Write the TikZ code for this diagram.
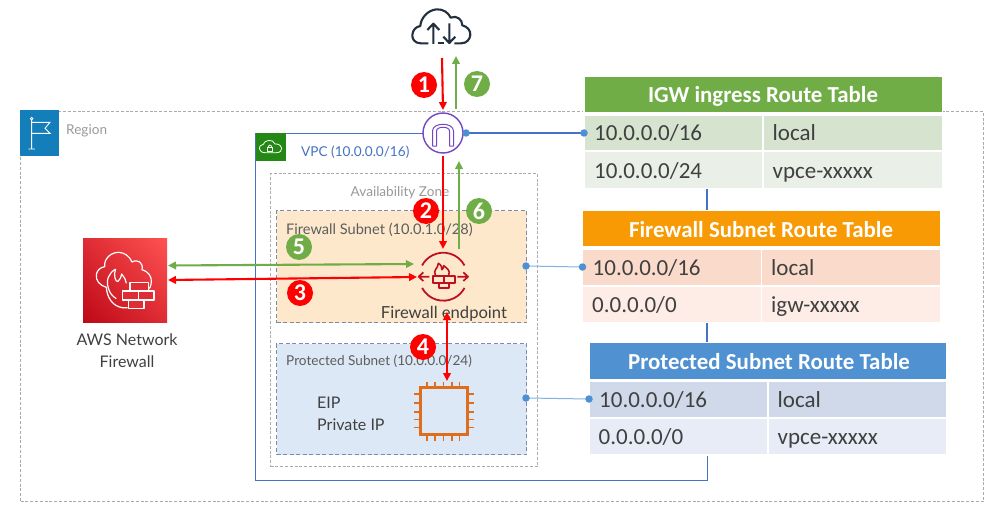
\documentclass[tikz,border=0pt]{standalone}
\usepackage{fontspec}
\setmainfont{Carlito}
\newfontfamily\labfont{Lato}
\usetikzlibrary{arrows.meta,shadings}
\definecolor{redarrow}{HTML}{FF0000}
\definecolor{greenarrow}{HTML}{70AD47}
\definecolor{bluedot}{HTML}{4F8FD6}
\definecolor{vpcblue}{HTML}{4472C4}
\definecolor{darktext}{HTML}{404040}
\definecolor{graytext}{HTML}{9A9A9A}
\definecolor{dashgray}{HTML}{ABABAB}
\definecolor{subnetedge}{HTML}{7F8BA5}
\definecolor{orangefill}{HTML}{FDE8CC}
\definecolor{bluefill}{HTML}{DCE8F5}
\definecolor{igwpurple}{HTML}{7346C4}
\definecolor{fwred}{HTML}{C0101F}
\definecolor{chiporange}{HTML}{DE6D1E}
\definecolor{navy}{HTML}{232F3E}
\definecolor{hdgreen}{HTML}{70AD47}
\definecolor{rowgreenA}{HTML}{D5E3CF}
\definecolor{rowgreenB}{HTML}{EAEFE8}
\definecolor{hdorange}{HTML}{F79A03}
\definecolor{roworangeA}{HTML}{FADBCB}
\definecolor{roworangeB}{HTML}{FDEDE6}
\definecolor{hdblue}{HTML}{5091D1}
\definecolor{rowblueA}{HTML}{CFD9EA}
\definecolor{rowblueB}{HTML}{E8ECF6}
\definecolor{awsA}{HTML}{BD0816}
\definecolor{awsB}{HTML}{FF5252}
\definecolor{awsC}{HTML}{DE2D34}
\definecolor{flagblue}{HTML}{147EBA}
\definecolor{vpcgreen}{HTML}{248814}
\tikzset{
  regionbox/.style={draw=dashgray,line width=1.1pt,dash pattern=on 3pt off 1.8pt,fill=white},
  vpcbox/.style={draw=vpcblue,line width=1.3pt},
  azbox/.style={draw=dashgray,line width=1.1pt,dash pattern=on 3pt off 1.8pt},
  subnetbox/.style={draw=subnetedge,line width=1.1pt,dash pattern=on 4pt off 2.5pt},
  redline/.style={draw=redarrow,line width=2.1pt,-{Triangle[length=8pt,width=7.5pt]}},
  reddouble/.style={draw=redarrow,line width=2.1pt,{Triangle[length=8pt,width=7.5pt]}-{Triangle[length=8pt,width=7.5pt]}},
  greenline/.style={draw=greenarrow,line width=2.1pt,-{Triangle[length=8pt,width=7.5pt]}},
  greendouble/.style={draw=greenarrow,line width=2.1pt,{Triangle[length=8pt,width=7.5pt]}-{Triangle[length=8pt,width=7.5pt]}},
  badge/.style={circle,inner sep=0pt,minimum size=26pt,text=white,font=\fontsize{24}{25}\selectfont\bfseries},
  reddot/.style={badge,fill=redarrow},
  greendot/.style={badge,fill=greenarrow},
  linkdot/.style={circle,fill=bluedot,inner sep=0pt,minimum size=7.5pt},
  linkline/.style={draw=bluedot!70,line width=1pt},
  cell/.style={inner sep=0pt,anchor=north west},
  celltext/.style={anchor=base west,inner sep=0pt,text=darktext,font=\fontsize{23}{26}\selectfont},
  headtext/.style={anchor=base,inner sep=0pt,text=white,font=\fontsize{22.9}{24}\selectfont\bfseries},
  lab/.style={inner sep=0pt,font=\labfont\fontsize{13.6}{15}\selectfont},
  biglab/.style={inner sep=0pt,text=darktext,font=\labfont\fontsize{16}{22}\selectfont,align=center},
  iconline/.style={line width=1.2pt,draw=white,line join=round},
}
\newcommand{\tcell}[8]{% name x0 y0 x1 y1 colour text textx
  \fill[#6] (#2,#3) rectangle (#4,#5);
  \node[celltext] (#1) at (#8,{#5-9.5}) {#7};
}
\begin{document}
\begin{tikzpicture}[x=1pt,y=-1pt]
\useasboundingbox (0,0) rectangle (998,516);
\fill[white] (0,0) rectangle (998,516);
% containers
\node[regionbox,cell,minimum width=963pt,minimum height=390pt] (region) at (20,111) {};
\fill[flagblue] (20,110) rectangle (58.5,155.5);
\node[lab,anchor=west,text=graytext] (regionlab) at (66,130.5) {Region};
\node[vpcbox,cell,minimum width=452pt,minimum height=347pt] (vpc) at (255,133) {};
\fill[vpcgreen] (255.5,133.5) rectangle (285.5,161);
\node[lab,anchor=west,text=vpcblue] (vpclab) at (301,152) {VPC (10.0.0.0/16)};
\node[azbox,cell,minimum width=267pt,minimum height=293pt] (az) at (270,173) {};
\node[lab,text=graytext] (azlab) at (400,193) {Availability Zone};
\node[subnetbox,cell,fill=orangefill,minimum width=250pt,minimum height=112pt] (fwsub) at (276,210) {};
\node[lab,anchor=west,text=darktext!85,font=\labfont\fontsize{14.6}{15}\selectfont] (fwsublab) at (286,229.5) {Firewall Subnet (10.0.1.0/28)};
\node[subnetbox,cell,fill=bluefill,minimum width=250pt,minimum height=111pt] (protsub) at (276,343) {};
\node[lab,anchor=west,text=darktext!85] (protsublab) at (286,361) {Protected Subnet (10.0.0.0/24)};
% tables
\fill[white] (583,75) rectangle (943,190);
\fill[white] (581,209) rectangle (941,323);
\fill[white] (588,341) rectangle (948,456);
\fill[hdgreen] (585,77) rectangle (941.5,112);
\node[headtext] (t1h) at (763,103) {IGW ingress Route Table};
\tcell{t1a}{585}{116}{762}{150}{rowgreenA}{10.0.0.0/16}{594}
\tcell{t1b}{764}{116}{941.5}{150}{rowgreenA}{local}{772.5}
\tcell{t1c}{585}{152}{762}{188}{rowgreenB}{10.0.0.0/24}{594}
\tcell{t1d}{764}{152}{941.5}{188}{rowgreenB}{vpce-xxxxx}{772.5}
\fill[hdorange] (583,211) rectangle (939.5,246);
\node[headtext] (t2h) at (761,237) {Firewall Subnet Route Table};
\tcell{t2a}{583}{250}{760.5}{285}{roworangeA}{10.0.0.0/16}{592.5}
\tcell{t2b}{762}{250}{939.5}{285}{roworangeA}{local}{771}
\tcell{t2c}{583}{286.5}{760.5}{322}{roworangeB}{0.0.0.0/0}{592}
\tcell{t2d}{762}{286.5}{939.5}{322}{roworangeB}{igw-xxxxx}{771}
\fill[hdblue] (590,343) rectangle (946,379);
\node[headtext] (t3h) at (769,369) {Protected Subnet Route Table};
\tcell{t3a}{590}{382}{767}{417}{rowblueA}{10.0.0.0/16}{599}
\tcell{t3b}{769}{382}{946}{417}{rowblueA}{local}{777.5}
\tcell{t3c}{590}{419}{767}{454}{rowblueB}{0.0.0.0/0}{598.5}
\tcell{t3d}{769}{419}{946}{454}{rowblueB}{vpce-xxxxx}{777.5}
% VPC right edge pieces between tables
\coordinate (va1) at (707,189); \coordinate (va2) at (707,210);
\coordinate (vb1) at (707,323); \coordinate (vb2) at (707,342);
\draw[vpcbox] (va1) -- (va2); \draw[vpcbox] (vb1) -- (vb2);
% internet cloud
\node[inner sep=0pt,minimum width=58pt,minimum height=36pt] (internet) at (442,26) {};
\begin{scope}[shift={(405,0)},x=0.3333pt,y=-0.3333pt]
  \draw[navy,line width=2.1pt,line join=round] (70,130) -- (47,130) .. controls (28,130) and (21,115) .. (22,105)
    .. controls (23,90) and (33,80) .. (46,78) .. controls (47,55) and (68,30) .. (95,28)
    .. controls (115,27) and (130,38) .. (137,53) .. controls (155,45) and (172,58) .. (172,76)
    .. controls (188,80) and (197,92) .. (196,105) .. controls (195,118) and (185,130) .. (168,130) -- (148,130);
  \draw[navy,line width=2.1pt] (98,130) -- (116,130);
  \draw[navy,line width=2.1pt,line join=round] (85,132) -- (85,72) (67,90) -- (85,71) -- (103,90);
  \draw[navy,line width=2.1pt,line join=round] (133,70) -- (133,128) (115,110) -- (133,129) -- (151,110);
\end{scope}
% IGW icon
\node[circle,draw=igwpurple,fill=white,line width=1.4pt,inner sep=0pt,minimum size=40pt] (igw) at (443,133) {};
\draw[igwpurple,line width=1pt,line join=round]
  (432.5,146) -- (432.5,131) .. controls (432.5,122) and (453.5,122) .. (453.5,131) -- (453.5,146) -- (449.5,146) -- (449.5,131)
  .. controls (449.5,126) and (436.5,126) .. (436.5,131) -- (436.5,146) -- cycle;
% firewall endpoint icon
\node[circle,inner sep=0pt,minimum size=50pt] (fwep) at (443.3,276.7) {};
\begin{scope}[shift={(443.3,276.7)},x=1pt,y=1pt]
  \draw[fwred,line width=1.8pt] (28:24pt) arc[start angle=28,end angle=152,radius=24pt];
  \draw[fwred,line width=1.8pt] (208:24pt) arc[start angle=208,end angle=332,radius=24pt];
\end{scope}
\begin{scope}[shift={(410,245)},x=0.3333pt,y=-0.3333pt]
  \draw[fwred,line width=1.7pt,line join=round] (58,95) -- (27,95) (40,82) -- (26,95) -- (40,108);
  \draw[fwred,line width=1.7pt,line join=round] (142,95) -- (173,95) (160,82) -- (174,95) -- (160,108);
  \draw[fwred,line width=1.6pt,line join=round] (76,90) .. controls (68,75) and (85,70) .. (85,55)
    .. controls (95,60) and (95,68) .. (96,74) .. controls (100,72) and (100,66) .. (101,62) .. controls (112,70) and (122,78) .. (116,90);
  \draw[fwred,line width=1.7pt,line join=round] (68,92) rectangle (135,113) (88,113) rectangle (118,130) (101,92) -- (101,113);
\end{scope}
\node[biglab,font=\labfont\fontsize{16.6}{22}\selectfont] (fweplab) at (444,313.5) {Firewall endpoint};
% chip
\node[draw=chiporange,line width=2.2pt,inner sep=0pt,minimum size=47pt] (chip) at (444,411) {};
\foreach \px in {426.7,435,443.3,451.7,459.3} \draw[chiporange,line width=1.6pt] (\px,381.5) -- (\px,387) (\px,435) -- (\px,441);
\foreach \py in {394,402.7,411.7,419.3,427.3} \draw[chiporange,line width=1.6pt] (414,\py) -- (420,\py) (468,\py) -- (474,\py);
\node[biglab,anchor=west,align=left] (eiplab) at (317,414) {EIP\\Private IP};
% AWS Network Firewall
\node[inner sep=0pt,minimum size=84pt] (nfw) at (125,280) {};
\shade[lower left=awsA,upper right=awsB,upper left=awsC,lower right=awsC] (83,238) rectangle (167,322);
\begin{scope}[shift={(83,238)},x=0.3333pt,y=-0.3333pt]
  \draw[iconline] (134,209) -- (118,209) .. controls (90,205) and (72,180) .. (70,148)
    .. controls (50,142) and (38,128) .. (40,110) .. controls (42,97) and (52,88) .. (65,86)
    .. controls (62,62) and (85,42) .. (108,43) .. controls (125,44) and (140,55) .. (147,72)
    .. controls (165,62) and (182,75) .. (177,95) .. controls (195,100) and (207,115) .. (205,132)
    .. controls (204,145) and (200,152) .. (195,156);
  \draw[iconline] (98,93) .. controls (78,105) and (68,125) .. (76,150) .. controls (80,165) and (88,175) .. (100,182)
    (98,93) .. controls (90,110) and (98,135) .. (105,130) .. controls (112,125) and (115,115) .. (116,108)
    .. controls (125,120) and (130,128) .. (130,136);
  \draw[iconline,fill=awsC] (141,134) rectangle (196,159);
  \draw[iconline,fill=awsC] (118,159) rectangle (213,186) (166,159) -- (166,186);
  \draw[iconline,fill=awsC] (136,186) rectangle (183,211);
\end{scope}
\node[biglab] (nfwlab) at (127,351) {AWS Network\\Firewall};
% flag icon
\begin{scope}[shift={(0,90)},x=0.3333pt,y=-0.3333pt]
  \draw[white,line width=0.9pt] (95,90) -- (95,175) (85,177) -- (105,177) (95,97) -- (150,97) -- (135,115) -- (150,130) -- (95,130);
  \draw[white,line width=0.8pt] (95,86) circle[radius=1.3pt];
  % vpc cloud icon
  \draw[white,line width=0.8pt,line join=round] (795,188) .. controls (775,188) and (772,165) .. (790,163)
    .. controls (792,150) and (820,145) .. (825,162) .. controls (850,160) and (852,188) .. (830,188) -- cycle;
  \draw[white,line width=0.8pt] (802,172) rectangle (818,183);
  \draw[white,line width=0.8pt] (805,172) .. controls (805,163) and (815,163) .. (815,172);
\end{scope}
% link lines
\coordinate (igwport) at (466,133); \coordinate (t1port) at (584,133);
\coordinate (fwport) at (526,266); \coordinate (t2port) at (582.5,267);
\coordinate (prport) at (526,398); \coordinate (t3port) at (589,399);
\draw[vpcbox] (igwport) -- (t1port);
\draw[linkline] (fwport) -- (t2port);
\draw[linkline] (prport) -- (t3port);
\foreach \p in {igwport,t1port,fwport,t2port,prport,t3port} \node[linkdot] at (\p) {};
% flow arrows
\coordinate (a1s) at (442,58); \coordinate (a1e) at (443,110);
\coordinate (a7s) at (456,109); \coordinate (a7e) at (456,56);
\coordinate (a2s) at (443,156); \coordinate (a2e) at (443,249);
\coordinate (a6s) at (459,249); \coordinate (a6e) at (459,161);
\coordinate (a5s) at (168,265.5); \coordinate (a5e) at (414,264);
\coordinate (a3s) at (168,280); \coordinate (a3e) at (417,277);
\coordinate (a4s) at (447,312); \coordinate (a4e) at (447,381);
\draw[redline] (a1s) -- (a1e);
\draw[greenline] (a7s) -- (a7e);
\draw[redline] (a2s) -- (a2e);
\draw[greenline] (a6s) -- (a6e);
\draw[greendouble] (a5s) -- (a5e);
\draw[reddouble] (a3s) -- (a3e);
\draw[reddouble] (a4s) -- (a4e);
% badges
\node[reddot] (b1) at (424,85) {1};
\node[reddot] (b2) at (426,211) {2};
\node[reddot] (b3) at (300,293) {3};
\node[reddot] (b4) at (423,347) {4};
\node[greendot] (b5) at (299,247) {5};
\node[greendot] (b6) at (479,211) {6};
\node[greendot] (b7) at (477,84) {7};
\end{tikzpicture}
\end{document}
